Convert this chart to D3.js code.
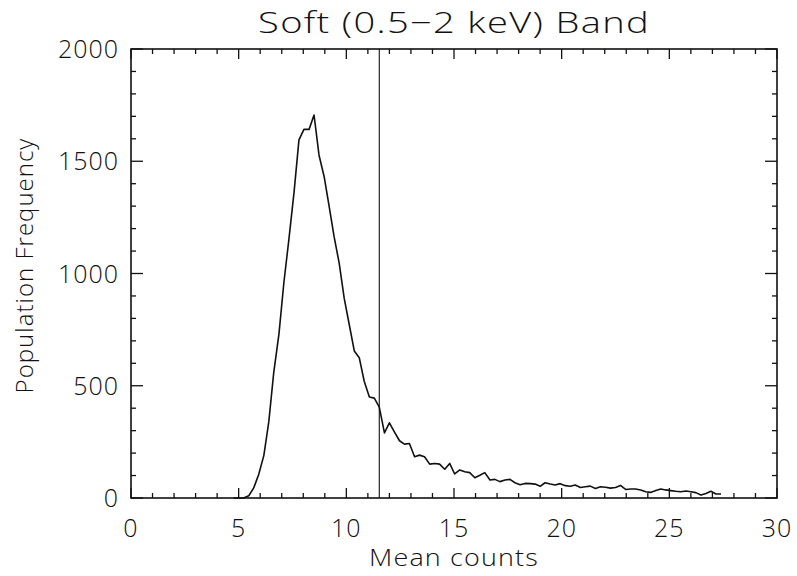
<!DOCTYPE html>
<html>
<head>
<meta charset="utf-8">
<script src="https://cdn.jsdelivr.net/npm/d3@7"></script>
<style>
  body { margin: 0; background: #fff; }
  text { font-family: "Open Sans", "DejaVu Sans", sans-serif; font-weight: 300; fill: #111; }
</style>
</head>
<body>
<div id="chart"></div>
<script>
// mean counts (bin centres) and population frequency
const meanCounts = [4.77, 5.00, 5.23, 5.47, 5.70, 5.93, 6.17, 6.40, 6.63, 6.87,
  7.10, 7.33, 7.57, 7.80, 8.03, 8.27, 8.50, 8.73, 8.97, 9.20,
  9.43, 9.67, 9.90, 10.13, 10.37, 10.60, 10.83, 11.07, 11.30, 11.53,
  11.77, 12.00, 12.23, 12.47, 12.70, 12.93, 13.17, 13.40, 13.63, 13.87,
  14.10, 14.33, 14.57, 14.80, 15.03, 15.27, 15.50, 15.73, 15.97, 16.20,
  16.43, 16.67, 16.90, 17.13, 17.37, 17.60, 17.83, 18.07, 18.30, 18.53,
  18.77, 19.00, 19.23, 19.47, 19.70, 19.93, 20.17, 20.40, 20.63, 20.87,
  21.10, 21.33, 21.57, 21.80, 22.03, 22.27, 22.50, 22.73, 22.97, 23.20,
  23.43, 23.67, 23.90, 24.13, 24.37, 24.60, 24.83, 25.07, 25.30, 25.53,
  25.77, 26.00, 26.23, 26.47, 26.70, 26.93, 27.17, 27.40];
const frequency = [0, 0, 0, 10, 45, 105, 190, 340, 560, 730,
  960, 1150, 1360, 1595, 1642, 1642, 1706, 1528, 1431, 1300,
  1165, 1045, 890, 775, 655, 625, 520, 450, 445, 405,
  290, 335, 295, 255, 240, 243, 184, 191, 184, 151,
  154, 151, 128, 154, 107, 125, 117, 113, 90, 101,
  113, 80, 83, 73, 80, 83, 68, 59, 65, 64,
  62, 52, 68, 62, 58, 64, 55, 52, 58, 47,
  50, 53, 42, 50, 48, 44, 47, 56, 38, 40,
  40, 36, 28, 25, 33, 40, 36, 33, 30, 28,
  31, 28, 24, 13, 20, 30, 18, 18];

const xTicks = [0, 5, 10, 15, 20, 25, 30];
const yTicks = [0, 500, 1000, 1500, 2000];
const cutValue = 11.53;   // vertical marker

const W = 797, H = 576;
const margin = { top: 49, right: 20, bottom: 78, left: 131 };

const svg = d3.select('#chart')
  .append('svg')
    .attr('width', W)
    .attr('height', H);

const x = d3.scaleLinear().domain([0, 30]).range([margin.left, W - margin.right]);
const y = d3.scaleLinear().domain([0, 2000]).range([H - margin.bottom, margin.top]);

const g = svg.append('g').attr('stroke', '#111').attr('fill', 'none');

// frame
g.append('rect')
  .attr('x', x(0)).attr('y', y(2000))
  .attr('width', x(30) - x(0)).attr('height', y(0) - y(2000))
  .attr('stroke-width', 1.6);

// ticks on all four sides
const xMinor = d3.range(0, 31, 1);
const yMinor = d3.range(0, 2001, 100);

g.selectAll('line.xt')
  .data(xMinor)
  .join('line')
    .attr('class', 'xt')
    .attr('x1', d => x(d)).attr('x2', d => x(d))
    .attr('y1', y(0)).attr('y2', d => y(0) - (d % 5 === 0 ? 10 : 5))
    .attr('stroke-width', 1.3);
g.selectAll('line.xtt')
  .data(xMinor)
  .join('line')
    .attr('class', 'xtt')
    .attr('x1', d => x(d)).attr('x2', d => x(d))
    .attr('y1', y(2000)).attr('y2', d => y(2000) + (d % 5 === 0 ? 10 : 5))
    .attr('stroke-width', 1.3);
g.selectAll('line.yt')
  .data(yMinor)
  .join('line')
    .attr('class', 'yt')
    .attr('x1', x(0)).attr('x2', d => x(0) + (d % 500 === 0 ? 12 : 5))
    .attr('y1', d => y(d)).attr('y2', d => y(d))
    .attr('stroke-width', 1.3);
g.selectAll('line.ytr')
  .data(yMinor)
  .join('line')
    .attr('class', 'ytr')
    .attr('x1', x(30)).attr('x2', d => x(30) - (d % 500 === 0 ? 12 : 5))
    .attr('y1', d => y(d)).attr('y2', d => y(d))
    .attr('stroke-width', 1.3);

// tick labels
svg.selectAll('text.xl')
  .data(xTicks)
  .join('text')
    .attr('class', 'xl')
    .attr('x', d => x(d))
    .attr('y', y(0) + 39)
    .attr('text-anchor', 'middle')
    .attr('font-size', 25)
    .attr('letter-spacing', 1)
    .text(d => d);
svg.selectAll('text.yl')
  .data(yTicks)
  .join('text')
    .attr('class', 'yl')
    .attr('x', x(0) - 12)
    .attr('y', d => y(d))
    .attr('dy', '0.36em')
    .attr('text-anchor', 'end')
    .attr('font-size', 25)
    .attr('letter-spacing', 1)
    .text(d => d);

// the histogram curve
const line = d3.line()
  .x((d, i) => x(meanCounts[i]))
  .y(d => y(d));

g.append('path')
  .datum(frequency)
  .attr('d', line)
  .attr('stroke-width', 1.6)
  .attr('stroke-linejoin', 'round');

// vertical marker
g.append('line')
  .attr('x1', x(cutValue)).attr('x2', x(cutValue))
  .attr('y1', y(2000)).attr('y2', y(0))
  .attr('stroke-width', 1.1);

// wide, thin lettering: stretch text horizontally to a target width
function wideText(txt, cx, cy, size, width, rot) {
  const t = svg.append('text')
    .attr('text-anchor', 'middle')
    .attr('font-size', size)
    .attr('letter-spacing', 1)
    .text(txt);
  const sx = width / t.node().getComputedTextLength();
  t.attr('transform', `translate(${cx},${cy}) rotate(${rot || 0}) scale(${sx},1)`);
  return t;
}

wideText('Soft (0.5\u22122 keV) Band', (x(0) + x(30)) / 2, 33, 29, 392);
wideText('Mean counts', (x(0) + x(30)) / 2, 566, 23, 170);
wideText('Population Frequency', 33, (y(0) + y(2000)) / 2 - 8, 23, 256, -90);
</script>
</body>
</html>
